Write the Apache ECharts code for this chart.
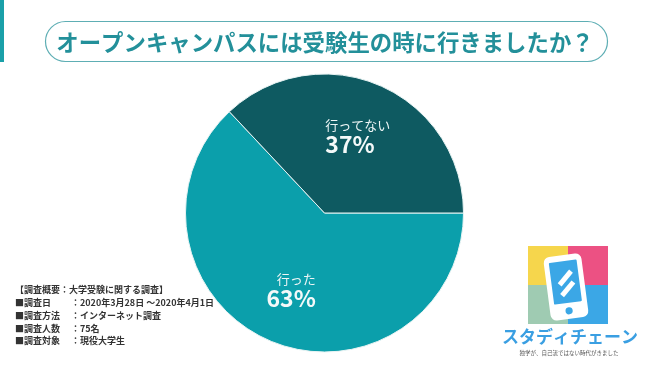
<!DOCTYPE html>
<html>
<head>
<meta charset="utf-8">
<script src="https://cdn.jsdelivr.net/npm/echarts@6/dist/echarts.min.js"></script>
<style>
html,body{margin:0;padding:0;background:#fff;}
#c{width:650px;height:365px;}
</style>
</head>
<body>
<div id="c"></div>
<script>
// ---- data ----
const titleText = 'オープンキャンパスには受験生の時に行きましたか？';
const categories = ['行った', '行ってない'];
const values = [63, 37];
const sliceColors = ['#0b9fab', '#0e5a61'];
const noteHeader = '【調査概要：大学受験に関する調査】';
const noteLabels = ['■調査日', '■調査方法', '■調査人数', '■調査対象'];
const noteValues = ['：2020年3月28日 〜2020年4月1日', '：インターネット調査', '：75名', '：現役大学生'];
const brandName = 'スタディチェーン';
const brandTagline = '独学が、自己流ではない時代がきました';

const FONT = '"Noto Sans CJK JP", "Noto Sans", sans-serif';
const chart = echarts.init(document.getElementById('c'), null, {renderer: 'canvas'});

const pieData = categories.map((name, i) => ({
  name: name,
  value: values[i],
  itemStyle: {color: sliceColors[i]}
}));
const labelAligns = ['right', 'left'];
const labelData = categories.map((name, i) => ({
  name: name,
  value: values[i],
  label: {
    rich: {
      n: {align: labelAligns[i]},
      p: {align: labelAligns[i]}
    }
  }
}));

const graphics = [];
// left accent bar
graphics.push({type: 'rect', left: 0, top: 0, shape: {width: 4, height: 62}, style: {fill: '#1aa0a9'}});
// title pill
graphics.push({type: 'rect', shape: {x: 45.5, y: 21.5, width: 562, height: 40, r: 20},
  style: {fill: '#fff', stroke: '#5eaeb4', lineWidth: 1.2}});
graphics.push({type: 'text', x: 325, y: 42, style: {text: titleText, font: 'bold 22.4px ' + FONT,
  fill: '#23909a', textAlign: 'center', textVerticalAlign: 'middle'}});
// notes
const noteYs = [290, 303, 316, 328.5, 341];
graphics.push({type: 'text', x: 15, y: noteYs[0], style: {text: noteHeader, font: 'bold 9px ' + FONT,
  fill: '#333', textAlign: 'left', textVerticalAlign: 'middle'}});
noteLabels.forEach((t, i) => {
  graphics.push({type: 'text', x: 15, y: noteYs[i + 1], style: {text: t, font: 'bold 9px ' + FONT,
    fill: '#333', textAlign: 'left', textVerticalAlign: 'middle'}});
  graphics.push({type: 'text', x: 71, y: noteYs[i + 1], style: {text: noteValues[i], font: 'bold 9px ' + FONT,
    fill: '#333', textAlign: 'left', textVerticalAlign: 'middle'}});
});
// logo squares
const sq = [
  [528, 246, '#f6d64c'], [568, 246, '#ec5183'],
  [528, 285, '#9fcbb2'], [568, 285, '#3ba7e6']
];
sq.forEach(s => graphics.push({type: 'rect', shape: {x: s[0], y: s[1], width: 40, height: 39}, style: {fill: s[2]}}));
// phone
graphics.push({
  type: 'group', x: 566, y: 287, rotation: 0.13,
  children: [
    {type: 'rect', shape: {x: -19, y: -32, width: 38, height: 64, r: 6}, style: {fill: '#ffffff'}},
    {type: 'rect', shape: {x: -14, y: -26, width: 28, height: 42, r: 1}, style: {fill: '#3ba7e6'}},
    {type: 'circle', shape: {cx: 0, cy: 24, r: 3.6}, style: {fill: '#3ba7e6'}},
    {type: 'line', shape: {x1: -6, y1: -3, x2: 7, y2: -15}, style: {stroke: '#fff', lineWidth: 5, lineCap: 'butt'}},
    {type: 'line', shape: {x1: -5, y1: 8, x2: 8, y2: -4}, style: {stroke: '#fff', lineWidth: 5, lineCap: 'butt'}}
  ]
});
graphics.push({type: 'text', x: 570, y: 337, style: {text: brandName, font: 'bold 17px ' + FONT,
  fill: '#3a9fe2', textAlign: 'center', textVerticalAlign: 'middle'}});
graphics.push({type: 'text', x: 569, y: 353, style: {text: brandTagline, font: '5.5px ' + FONT,
  fill: '#555', textAlign: 'center', textVerticalAlign: 'middle'}});

chart.setOption({
  backgroundColor: '#ffffff',
  animation: false,
  graphic: graphics,
  series: [
    {
      type: 'pie',
      center: [324.5, 213],
      radius: [0, 139],
      startAngle: 0,
      clockwise: true,
      silent: true,
      label: {show: false},
      labelLine: {show: false},
      itemStyle: {borderColor: '#e8f4f4', borderWidth: 1},
      data: pieData
    },
    {
      type: 'pie',
      center: [324.5, 213],
      radius: [0, 162],
      startAngle: 0,
      clockwise: true,
      silent: true,
      itemStyle: {color: 'rgba(0,0,0,0)', borderWidth: 0},
      labelLine: {show: false},
      label: {
        show: true,
        position: 'inside',
        formatter: '{n|{b}}\n{p|{c}%}',
        rich: {
          n: {fontFamily: FONT, fontSize: 13, color: '#eef6f6', lineHeight: 17},
          p: {fontFamily: FONT, fontSize: 23, fontWeight: 'bold', color: '#f4f9f9', lineHeight: 22}
        }
      },
      data: labelData
    }
  ]
});
</script>
</body>
</html>
